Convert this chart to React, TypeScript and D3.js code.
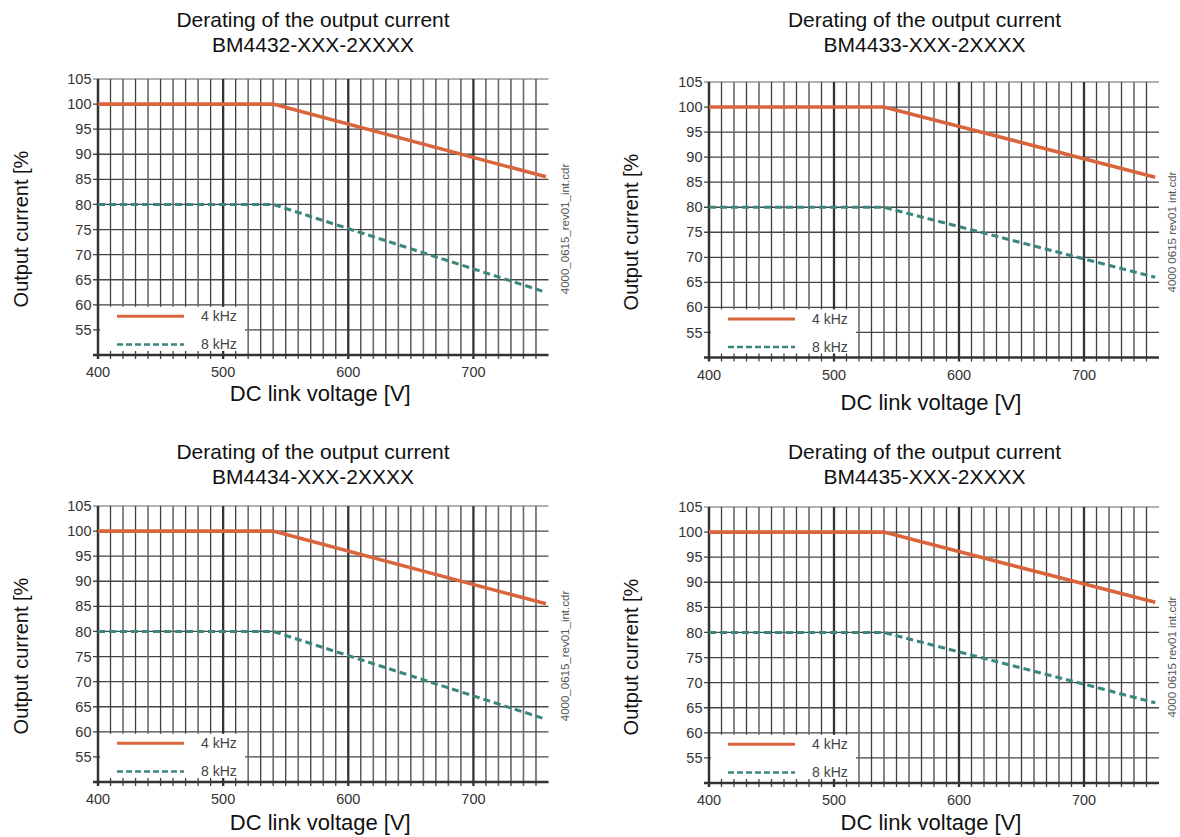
import React from "react";
import * as d3 from "d3";

// ---- data ----
const voltageA = [400, 540, 758];
const current4kHzA = [100, 100, 85.5];
const current8kHzA = [80, 80, 62.5];
const voltageB = [400, 540, 757];
const current4kHzB = [100, 100, 86];
const current8kHzB = [80, 80, 66];

const xTickLabels = [400, 500, 600, 700];
const yTickLabels = [55, 60, 65, 70, 75, 80, 85, 90, 95, 100, 105];
const models = ["BM4432-XXX-2XXXX", "BM4433-XXX-2XXXX", "BM4434-XXX-2XXXX", "BM4435-XXX-2XXXX"];
const legendLabels = ["4 kHz", "8 kHz"];
const titleText = "Derating of the output current";
const xLabel = "DC link voltage [V]";
const yLabel = "Output current [%";
const sideTexts = ["4000_0615_rev01_int.cdr", "4000 0615 rev01 int.cdr"];

const ORANGE = "#d9653d";
const TEAL = "#3b877d";
const FONT = "'Liberation Sans', Arial, sans-serif";

type PanelProps = {
  x0: number; x1: number; yTop: number; yBot: number;
  titleCx: number; titleY: number; xLabelY: number; yLabelX: number;
  sideX: number; side: string; model: string;
  volts: number[]; c4: number[]; c8: number[];
};

function Panel(p: PanelProps) {
  const x = d3.scaleLinear().domain([400, 760]).range([p.x0, p.x1]);
  const y = d3.scaleLinear().domain([50, 105]).range([p.yBot, p.yTop]);
  const vGrid = d3.range(410, 760, 10);
  const hGrid = d3.range(55, 106, 5);
  const line = d3.line<[number, number]>().x((d) => x(d[0])).y((d) => y(d[1]));
  const d4 = line(p.volts.map((v, i) => [v, p.c4[i]] as [number, number])) || "";
  const d8 = line(p.volts.map((v, i) => [v, p.c8[i]] as [number, number])) || "";
  const labelMid = p.yTop + 150;
  const legL = p.x0 + 2;
  const legR = p.x0 + 147;
  return (
    <g>
      <text x={p.titleCx} y={p.titleY} textAnchor="middle" fontSize={21} fill="#111">{titleText}</text>
      <text x={p.titleCx} y={p.titleY + 25} textAnchor="middle" fontSize={21} fill="#111">{p.model}</text>
      {/* horizontal grid */}
      {hGrid.map((v) => (
        <line key={"h" + v} x1={p.x0 - 5} x2={p.x1} y1={y(v)} y2={y(v)}
          stroke={v === 105 ? "#999" : "#454545"} strokeWidth={v === 105 ? 1.6 : 1.3} />
      ))}
      {/* vertical grid */}
      {vGrid.map((v) => (
        <line key={"v" + v} x1={x(v)} x2={x(v)} y1={p.yTop} y2={p.yBot + 4}
          stroke={v % 100 === 0 ? "#333" : (v / 10) % 2 === 1 ? "#404040" : "#6a6a6a"}
          strokeWidth={v % 100 === 0 ? 2.3 : (v / 10) % 2 === 1 ? 1.3 : 1.6} />
      ))}
      {/* legend box */}
      <rect x={legL} y={y(60) + 2} width={legR - legL} height={p.yBot - 4 - (y(60) + 2)} fill="#fff" />
      {/* axes */}
      <line x1={p.x0} x2={p.x0} y1={p.yTop} y2={p.yBot + 4} stroke="#333" strokeWidth={2.5} />
      <line x1={p.x0 - 5} x2={p.x1} y1={p.yBot} y2={p.yBot} stroke="#333" strokeWidth={2.5} />
      {/* data */}
      <path d={d4} fill="none" stroke={ORANGE} strokeWidth={3.6} />
      <path d={d8} fill="none" stroke={TEAL} strokeWidth={3.1} strokeDasharray="7,4" />
      {/* legend */}
      <line x1={p.x0 + 19} x2={p.x0 + 86} y1={y(57.7)} y2={y(57.7)} stroke={ORANGE} strokeWidth={3} />
      <line x1={p.x0 + 19} x2={p.x0 + 86} y1={y(52.1)} y2={y(52.1)} stroke={TEAL} strokeWidth={2.6} strokeDasharray="6,3" />
      <text x={p.x0 + 103} y={y(57.7) + 5} fontSize={14} fill="#444">{legendLabels[0]}</text>
      <text x={p.x0 + 103} y={y(52.1) + 5} fontSize={14} fill="#444">{legendLabels[1]}</text>
      {/* tick labels */}
      {yTickLabels.map((v) => (
        <text key={"yt" + v} x={p.x0 - 6.5} y={y(v)} dy="0.35em" textAnchor="end" fontSize={14.5} fill="#333">{v}</text>
      ))}
      {xTickLabels.map((v) => (
        <text key={"xt" + v} x={x(v)} y={p.yBot + 22} textAnchor="middle" fontSize={14.5} fill="#333">{v}</text>
      ))}
      {/* axis titles */}
      <text x={(p.x0 + p.x1) / 2 - 3} y={p.xLabelY} textAnchor="middle" fontSize={22} fill="#111">{xLabel}</text>
      <text transform={`translate(${p.yLabelX},${labelMid}) rotate(-90)`} dy="0.35em" textAnchor="middle" fontSize={20} fill="#111">{yLabel}</text>
      <text transform={`translate(${p.sideX},${labelMid}) rotate(-90)`} dy="0.35em" textAnchor="middle" fontSize={11.5} fill="#555">{p.side}</text>
    </g>
  );
}

export default function App() {
  const panels: PanelProps[] = [
    { x0: 98, x1: 548.5, yTop: 79, yBot: 355, titleCx: 313, titleY: 27, xLabelY: 401, yLabelX: 21, sideX: 565, side: sideTexts[0], model: models[0], volts: voltageA, c4: current4kHzA, c8: current8kHzA },
    { x0: 709, x1: 1159, yTop: 82, yBot: 357.5, titleCx: 924.5, titleY: 27, xLabelY: 410, yLabelX: 631, sideX: 1172, side: sideTexts[1], model: models[1], volts: voltageB, c4: current4kHzB, c8: current8kHzB },
    { x0: 98, x1: 548.5, yTop: 506, yBot: 782, titleCx: 313, titleY: 459, xLabelY: 830, yLabelX: 21, sideX: 565, side: sideTexts[0], model: models[2], volts: voltageA, c4: current4kHzA, c8: current8kHzA },
    { x0: 709, x1: 1159, yTop: 507, yBot: 783, titleCx: 924.5, titleY: 459, xLabelY: 830, yLabelX: 631, sideX: 1172, side: sideTexts[1], model: models[3], volts: voltageB, c4: current4kHzB, c8: current8kHzB },
  ];
  return (
    <svg width={1180} height={837} style={{ position: "absolute", left: 0, top: 0, background: "#fff" }} fontFamily={FONT}>
      <rect width={1180} height={837} fill="#fff" />
      {panels.map((p, i) => <Panel key={i} {...p} />)}
    </svg>
  );
}
